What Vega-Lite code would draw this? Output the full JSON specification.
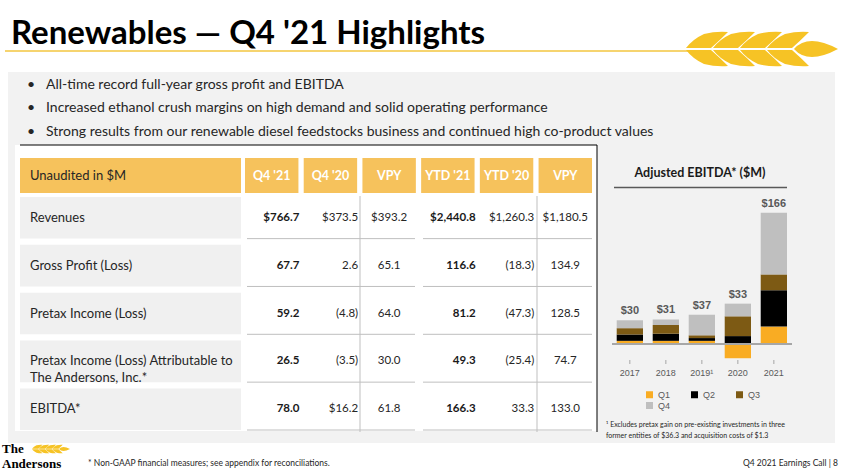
{
"$schema":"https://vega.github.io/schema/vega-lite/v6.json",
"width":844,"height":475,"autosize":{"type":"none"},"padding":0,"background":"#ffffff",
"config":{"view":{"stroke":null},"font":"Lato"},
"datasets":{
 "bullets":[
  {"i":"1","text":"All-time record full-year gross profit and EBITDA"},
  {"i":"2","text":"Increased ethanol crush margins on high demand and solid operating performance"},
  {"i":"3","text":"Strong results from our renewable diesel feedstocks business and continued high co-product values"}
 ],
 "rows":[
  {"row":"Revenues","label":["Revenues"]},
  {"row":"Gross Profit (Loss)","label":["Gross Profit (Loss)"]},
  {"row":"Pretax Income (Loss)","label":["Pretax Income (Loss)"]},
  {"row":"Pretax Income (Loss) Attributable to The Andersons, Inc.*","label":["Pretax Income (Loss) Attributable to","The Andersons, Inc.*"]},
  {"row":"EBITDA*","label":["EBITDA*"]}
 ],
 "cols":[
  {"col":"Q4 '21","label":"Q4 '21"},{"col":"Q4 '20","label":"Q4 '20"},{"col":"VPY (Q4)","label":"VPY"},
  {"col":"YTD '21","label":"YTD '21"},{"col":"YTD '20","label":"YTD '20"},{"col":"VPY (YTD)","label":"VPY"}
 ],
 "cells":[
  {"row":"Revenues","col":"Q4 '21","v":"$766.7"},{"row":"Revenues","col":"Q4 '20","v":"$373.5"},{"row":"Revenues","col":"VPY (Q4)","v":"$393.2"},
  {"row":"Revenues","col":"YTD '21","v":"$2,440.8"},{"row":"Revenues","col":"YTD '20","v":"$1,260.3"},{"row":"Revenues","col":"VPY (YTD)","v":"$1,180.5"},
  {"row":"Gross Profit (Loss)","col":"Q4 '21","v":"67.7"},{"row":"Gross Profit (Loss)","col":"Q4 '20","v":"2.6"},{"row":"Gross Profit (Loss)","col":"VPY (Q4)","v":"65.1"},
  {"row":"Gross Profit (Loss)","col":"YTD '21","v":"116.6"},{"row":"Gross Profit (Loss)","col":"YTD '20","v":"(18.3)"},{"row":"Gross Profit (Loss)","col":"VPY (YTD)","v":"134.9"},
  {"row":"Pretax Income (Loss)","col":"Q4 '21","v":"59.2"},{"row":"Pretax Income (Loss)","col":"Q4 '20","v":"(4.8)"},{"row":"Pretax Income (Loss)","col":"VPY (Q4)","v":"64.0"},
  {"row":"Pretax Income (Loss)","col":"YTD '21","v":"81.2"},{"row":"Pretax Income (Loss)","col":"YTD '20","v":"(47.3)"},{"row":"Pretax Income (Loss)","col":"VPY (YTD)","v":"128.5"},
  {"row":"Pretax Income (Loss) Attributable to The Andersons, Inc.*","col":"Q4 '21","v":"26.5"},{"row":"Pretax Income (Loss) Attributable to The Andersons, Inc.*","col":"Q4 '20","v":"(3.5)"},{"row":"Pretax Income (Loss) Attributable to The Andersons, Inc.*","col":"VPY (Q4)","v":"30.0"},
  {"row":"Pretax Income (Loss) Attributable to The Andersons, Inc.*","col":"YTD '21","v":"49.3"},{"row":"Pretax Income (Loss) Attributable to The Andersons, Inc.*","col":"YTD '20","v":"(25.4)"},{"row":"Pretax Income (Loss) Attributable to The Andersons, Inc.*","col":"VPY (YTD)","v":"74.7"},
  {"row":"EBITDA*","col":"Q4 '21","v":"78.0"},{"row":"EBITDA*","col":"Q4 '20","v":"$16.2"},{"row":"EBITDA*","col":"VPY (Q4)","v":"61.8"},
  {"row":"EBITDA*","col":"YTD '21","v":"166.3"},{"row":"EBITDA*","col":"YTD '20","v":"33.3"},{"row":"EBITDA*","col":"VPY (YTD)","v":"133.0"}
 ],
 "ebitda":[
  {"year":"2017","q":"Q1","v":4},{"year":"2017","q":"Q2","v":8},{"year":"2017","q":"Q3","v":8},{"year":"2017","q":"Q4","v":10},
  {"year":"2018","q":"Q1","v":4},{"year":"2018","q":"Q2","v":9},{"year":"2018","q":"Q3","v":11},{"year":"2018","q":"Q4","v":7},
  {"year":"2019","q":"Q1","v":4},{"year":"2019","q":"Q2","v":3.5},{"year":"2019","q":"Q3","v":3.5},{"year":"2019","q":"Q4","v":26},
  {"year":"2020","q":"Q1","v":-18},{"year":"2020","q":"Q2","v":10},{"year":"2020","q":"Q3","v":25},{"year":"2020","q":"Q4","v":16},
  {"year":"2021","q":"Q1","v":22},{"year":"2021","q":"Q2","v":46},{"year":"2021","q":"Q3","v":20},{"year":"2021","q":"Q4","v":78}
 ],
 "years":[
  {"year":"2017","label":"2017"},{"year":"2018","label":"2018"},{"year":"2019","label":"2019¹"},{"year":"2020","label":"2020"},{"year":"2021","label":"2021"}
 ]
},
"layer":[
 {"data":{"values":[{"part":"highlights box"}]},"mark":{"type":"rect","color":"#f2f2f2"},
  "encoding":{"x":{"value":8},"x2":{"value":835},"y":{"value":72},"y2":{"value":443}}},
 {"data":{"values":[{"t":"Renewables — Q4 '21 Highlights"}]},
  "mark":{"type":"text","align":"left","baseline":"alphabetic","font":"Lato","fontSize":33,"fontWeight":"bold","color":"#000000"},
  "encoding":{"text":{"field":"t"},"x":{"value":11},"y":{"value":44}}},
 {"data":{"values":[{"part":"title rule"}]},"mark":{"type":"rule","color":"#f3c63f","strokeWidth":1.5},
  "encoding":{"x":{"value":5},"x2":{"value":690},"y":{"value":51}}},
 {"data":{"values":[{"logo":"wheat"}]},
  "mark":{"type":"point","shape":"M-76,-1L-51,-1Q-43,-8,-34,-17Q-46,-18,-58,-15Q-69,-10,-76,-1ZM-76,1L-51,1Q-43,8,-34,17Q-46,18,-58,15Q-69,10,-76,1ZM-49,-1L-24,-1Q-16,-8,-7,-17Q-19,-18,-31,-15Q-42,-10,-49,-1ZM-49,1L-24,1Q-16,8,-7,17Q-19,18,-31,15Q-42,10,-49,1ZM-22,-1L3,-1Q11,-8,20,-17Q8,-18,-4,-15Q-15,-10,-22,-1ZM-22,1L3,1Q11,8,20,17Q8,18,-4,15Q-15,10,-22,1ZM5,-1L30,-1Q38,-8,47,-17Q35,-18,23,-15Q12,-10,5,-1ZM5,1L30,1Q38,8,47,17Q35,18,23,15Q12,10,5,1ZM32,0Q46,-16,76,0Q46,16,32,0Z","size":4,"filled":true,"color":"#f6c325","opacity":1,"strokeWidth":0},
  "encoding":{"x":{"value":762},"y":{"value":49}}},
 {"data":{"name":"bullets"},
  "layer":[
   {"mark":{"type":"text","text":"•","align":"center","baseline":"middle","fontSize":14,"color":"#262626"},
    "encoding":{"y":{"field":"i","type":"ordinal","axis":null,"scale":{"type":"point","range":[85,131.5],"padding":0}},"x":{"value":31}}},
   {"mark":{"type":"text","align":"left","baseline":"middle","fontSize":14,"color":"#262626"},
    "encoding":{"y":{"field":"i","type":"ordinal","axis":null,"scale":{"type":"point","range":[85,131.5],"padding":0}},"x":{"value":46},"text":{"field":"text"}}}
  ]},
 {"data":{"values":[{"part":"table background"}]},"mark":{"type":"rect","color":"#ffffff"},
  "encoding":{"x":{"value":15},"x2":{"value":597},"y":{"value":145},"y2":{"value":431}}},
 {"data":{"values":[{"part":"table top rule"}]},"mark":{"type":"rule","color":"#000000","strokeWidth":1},
  "encoding":{"x":{"value":20},"x2":{"value":597},"y":{"value":145}}},
 {"data":{"values":[{"part":"table right rule"}]},"mark":{"type":"rule","color":"#000000","strokeWidth":1},
  "encoding":{"x":{"value":597},"y":{"value":145},"y2":{"value":432}}},
 {"data":{"values":[{"part":"column rule Q"},{"part":"column rule YTD"}]},"mark":{"type":"rule","color":"#bfbfbf","strokeWidth":1},
  "encoding":{"x":{"field":"part","type":"nominal","axis":null,"scale":{"type":"point","domain":["column rule Q","column rule YTD"],"range":[360,537],"padding":0}},"y":{"value":196},"y2":{"value":432}}},
 {"layer":[
   {"data":{"values":[{"h":"Unaudited in $M"}]},"mark":{"type":"rect","color":"#f6c25c"},
    "encoding":{"x":{"value":20},"x2":{"value":241},"y":{"value":158},"y2":{"value":193}}},
   {"data":{"values":[{"h":"Unaudited in $M"}]},"mark":{"type":"text","align":"left","baseline":"middle","fontSize":13,"color":"#262626"},
    "encoding":{"x":{"value":30},"y":{"value":176},"text":{"field":"h"}}},
   {"data":{"name":"cols"},"mark":{"type":"rect","color":"#f6c25c"},
    "encoding":{"x":{"field":"col","type":"nominal","axis":null,"scale":{"type":"band","domain":["Q4 '21","Q4 '20","VPY (Q4)","YTD '21","YTD '20","VPY (YTD)"],"range":[245,592],"paddingInner":0.09,"paddingOuter":0}},
     "y":{"value":158},"y2":{"value":193}}},
   {"data":{"name":"cols"},"mark":{"type":"text","align":"center","baseline":"middle","fontSize":12.5,"fontWeight":"bold","color":"#ffffff"},
    "encoding":{"x":{"field":"col","type":"nominal","axis":null,"scale":{"type":"band","domain":["Q4 '21","Q4 '20","VPY (Q4)","YTD '21","YTD '20","VPY (YTD)"],"range":[245,592],"paddingInner":0.09,"paddingOuter":0},"bandPosition":0.5},
     "y":{"value":176},"text":{"field":"label"}}},
   {"data":{"name":"rows"},"mark":{"type":"rect","color":"#f0f0f0"},
    "encoding":{"y":{"field":"row","type":"nominal","axis":null,"scale":{"type":"band","domain":["Revenues","Gross Profit (Loss)","Pretax Income (Loss)","Pretax Income (Loss) Attributable to The Andersons, Inc.*","EBITDA*"],"range":[197,430],"paddingInner":0.13,"paddingOuter":0}},
     "x":{"value":20},"x2":{"value":241}}},
   {"data":{"name":"rows"},"mark":{"type":"text","align":"left","baseline":"middle","fontSize":13,"lineHeight":17,"color":"#262626"},
    "encoding":{"y":{"field":"row","type":"nominal","axis":null,"scale":{"type":"band","domain":["Revenues","Gross Profit (Loss)","Pretax Income (Loss)","Pretax Income (Loss) Attributable to The Andersons, Inc.*","EBITDA*"],"range":[197,430],"paddingInner":0.13,"paddingOuter":0},"bandPosition":0.5},
     "x":{"value":30},"text":{"field":"label"}}},
   {"data":{"name":"rows"},"mark":{"type":"rule","color":"#bfbfbf","strokeWidth":1},
    "encoding":{"y":{"field":"row","type":"nominal","axis":null,"scale":{"type":"band","domain":["Revenues","Gross Profit (Loss)","Pretax Income (Loss)","Pretax Income (Loss) Attributable to The Andersons, Inc.*","EBITDA*"],"range":[197,430],"paddingInner":0.13,"paddingOuter":0},"bandPosition":1},
     "x":{"value":247},"x2":{"value":415}}},
   {"data":{"name":"rows"},"mark":{"type":"rule","color":"#bfbfbf","strokeWidth":1},
    "encoding":{"y":{"field":"row","type":"nominal","axis":null,"scale":{"type":"band","domain":["Revenues","Gross Profit (Loss)","Pretax Income (Loss)","Pretax Income (Loss) Attributable to The Andersons, Inc.*","EBITDA*"],"range":[197,430],"paddingInner":0.13,"paddingOuter":0},"bandPosition":1},
     "x":{"value":423},"x2":{"value":592}}},
   {"data":{"name":"cells"},"transform":[{"filter":{"field":"col","oneOf":["Q4 '21","YTD '21"]}}],
    "mark":{"type":"text","align":"right","baseline":"middle","fontSize":11.5,"fontWeight":"bold","color":"#1a1a1a","dx":1},
    "encoding":{"x":{"field":"col","type":"nominal","axis":null,"scale":{"type":"band","domain":["Q4 '21","Q4 '20","VPY (Q4)","YTD '21","YTD '20","VPY (YTD)"],"range":[245,592],"paddingInner":0.09,"paddingOuter":0},"bandPosition":1},
     "y":{"field":"row","type":"nominal","axis":null,"scale":{"type":"band","domain":["Revenues","Gross Profit (Loss)","Pretax Income (Loss)","Pretax Income (Loss) Attributable to The Andersons, Inc.*","EBITDA*"],"range":[197,430],"paddingInner":0.13,"paddingOuter":0},"bandPosition":0.5},
     "text":{"field":"v"}}},
   {"data":{"name":"cells"},"transform":[{"filter":{"field":"col","oneOf":["Q4 '20","YTD '20"]}}],
    "mark":{"type":"text","align":"right","baseline":"middle","fontSize":11.5,"color":"#262626","dx":1},
    "encoding":{"x":{"field":"col","type":"nominal","axis":null,"scale":{"type":"band","domain":["Q4 '21","Q4 '20","VPY (Q4)","YTD '21","YTD '20","VPY (YTD)"],"range":[245,592],"paddingInner":0.09,"paddingOuter":0},"bandPosition":1},
     "y":{"field":"row","type":"nominal","axis":null,"scale":{"type":"band","domain":["Revenues","Gross Profit (Loss)","Pretax Income (Loss)","Pretax Income (Loss) Attributable to The Andersons, Inc.*","EBITDA*"],"range":[197,430],"paddingInner":0.13,"paddingOuter":0},"bandPosition":0.5},
     "text":{"field":"v"}}},
   {"data":{"name":"cells"},"transform":[{"filter":{"field":"col","oneOf":["VPY (Q4)","VPY (YTD)"]}}],
    "mark":{"type":"text","align":"center","baseline":"middle","fontSize":11.5,"color":"#262626"},
    "encoding":{"x":{"field":"col","type":"nominal","axis":null,"scale":{"type":"band","domain":["Q4 '21","Q4 '20","VPY (Q4)","YTD '21","YTD '20","VPY (YTD)"],"range":[245,592],"paddingInner":0.09,"paddingOuter":0},"bandPosition":0.5},
     "y":{"field":"row","type":"nominal","axis":null,"scale":{"type":"band","domain":["Revenues","Gross Profit (Loss)","Pretax Income (Loss)","Pretax Income (Loss) Attributable to The Andersons, Inc.*","EBITDA*"],"range":[197,430],"paddingInner":0.13,"paddingOuter":0},"bandPosition":0.5},
     "text":{"field":"v"}}}
 ]},
 {"data":{"values":[{"t":"Adjusted EBITDA* ($M)"}]},
  "mark":{"type":"text","align":"center","baseline":"middle","fontSize":12.5,"fontWeight":"bold","color":"#1a1a1a"},
  "encoding":{"text":{"field":"t"},"x":{"value":700},"y":{"value":173}}},
 {"data":{"values":[{"part":"chart title rule"}]},"mark":{"type":"rule","color":"#595959","strokeWidth":1.5},
  "encoding":{"x":{"value":614},"x2":{"value":787},"y":{"value":187.5}}},
 {"data":{"name":"ebitda"},
  "layer":[
   {"mark":{"type":"bar"},
    "encoding":{
     "x":{"field":"year","type":"nominal","axis":null,"scale":{"type":"band","domain":["2017","2018","2019","2020","2021"],"range":[616.7,787],"paddingInner":0.27,"paddingOuter":0}},
     "y":{"field":"v","type":"quantitative","stack":"zero","axis":null,"scale":{"domain":[0,166],"range":[344,212.7],"nice":false,"zero":false}},
     "color":{"field":"q","type":"nominal","scale":{"domain":["Q1","Q2","Q3","Q4"],"range":["#f9ac23","#000000","#7d5a14","#bfbfbf"]},
      "legend":{"title":null,"orient":"none","legendX":645,"legendY":390,"columns":3,"direction":"horizontal","symbolType":"square","symbolSize":49,"symbolStrokeWidth":0,"labelFont":"Liberation Sans","labelFontSize":9,"labelColor":"#595959","labelOffset":4,"columnPadding":19,"rowPadding":1}},
     "order":{"field":"q"}}},
   {"transform":[
     {"joinaggregate":[{"op":"sum","field":"v","as":"total"}],"groupby":["year"]},
     {"filter":"datum.v > 0"},
     {"aggregate":[{"op":"sum","field":"v","as":"top"}],"groupby":["year","total"]}],
    "mark":{"type":"text","align":"center","baseline":"middle","dy":-9,"font":"Liberation Sans","fontSize":11,"fontWeight":"bold","color":"#595959"},
    "encoding":{
     "x":{"field":"year","type":"nominal","axis":null,"scale":{"type":"band","domain":["2017","2018","2019","2020","2021"],"range":[616.7,787],"paddingInner":0.27,"paddingOuter":0}},
     "y":{"field":"top","type":"quantitative","axis":null,"scale":{"domain":[0,166],"range":[344,212.7],"nice":false,"zero":false}},
     "text":{"field":"total","type":"quantitative","format":"$.0f"}}},
   {"mark":{"type":"rule","color":"#a6a6a6","strokeWidth":1},
    "encoding":{"y":{"datum":0,"type":"quantitative"},"x":{"value":612},"x2":{"value":792}}},
   {"data":{"name":"years"},"mark":{"type":"rule","color":"#a6a6a6","strokeWidth":1},
    "encoding":{"x":{"field":"year","type":"nominal","axis":null,"scale":{"type":"band","domain":["2017","2018","2019","2020","2021"],"range":[616.7,787],"paddingInner":0.27,"paddingOuter":0},"bandPosition":0.5},
     "y":{"value":360},"y2":{"value":364}}},
   {"data":{"name":"years"},"mark":{"type":"text","align":"center","baseline":"middle","font":"Liberation Sans","fontSize":9,"color":"#595959"},
    "encoding":{"x":{"field":"year","type":"nominal","axis":null,"scale":{"type":"band","domain":["2017","2018","2019","2020","2021"],"range":[616.7,787],"paddingInner":0.27,"paddingOuter":0},"bandPosition":0.5},
     "y":{"value":373},"text":{"field":"label"}}}
  ]},
 {"data":{"values":[{"t":["¹ Excludes pretax gain on pre-existing investments in three","  former entities of $36.3 and acquisition costs of $1.3"]}]},
  "mark":{"type":"text","align":"left","baseline":"middle","fontSize":7,"lineHeight":11,"color":"#262626"},
  "encoding":{"text":{"field":"t"},"x":{"value":606},"y":{"value":424.5}}},
 {"data":{"values":[{"t":"* Non-GAAP financial measures; see appendix for reconciliations."}]},
  "mark":{"type":"text","align":"left","baseline":"middle","fontSize":8.5,"color":"#262626"},
  "encoding":{"text":{"field":"t"},"x":{"value":88},"y":{"value":463}}},
 {"data":{"values":[{"t":"Q4 2021 Earnings Call | 8"}]},
  "mark":{"type":"text","align":"right","baseline":"middle","fontSize":8.5,"color":"#262626"},
  "encoding":{"text":{"field":"t"},"x":{"value":838},"y":{"value":463}}},
 {"data":{"values":[{"t":["The","Andersons"]}]},
  "mark":{"type":"text","align":"left","baseline":"alphabetic","font":"Liberation Serif","fontSize":13,"fontWeight":"bold","lineHeight":14.5,"color":"#000000"},
  "encoding":{"text":{"field":"t"},"x":{"value":2},"y":{"value":453}}},
 {"data":{"values":[{"logo":"small wheat"}]},
  "mark":{"type":"point","shape":"M-76,-1L-51,-1Q-43,-8,-34,-17Q-46,-18,-58,-15Q-69,-10,-76,-1ZM-76,1L-51,1Q-43,8,-34,17Q-46,18,-58,15Q-69,10,-76,1ZM-49,-1L-24,-1Q-16,-8,-7,-17Q-19,-18,-31,-15Q-42,-10,-49,-1ZM-49,1L-24,1Q-16,8,-7,17Q-19,18,-31,15Q-42,10,-49,1ZM-22,-1L3,-1Q11,-8,20,-17Q8,-18,-4,-15Q-15,-10,-22,-1ZM-22,1L3,1Q11,8,20,17Q8,18,-4,15Q-15,10,-22,1ZM5,-1L30,-1Q38,-8,47,-17Q35,-18,23,-15Q12,-10,5,-1ZM5,1L30,1Q38,8,47,17Q35,18,23,15Q12,10,5,1ZM32,0Q46,-16,76,0Q46,16,32,0Z","size":0.25,"filled":true,"color":"#f6c325","opacity":1,"strokeWidth":0},
  "encoding":{"x":{"value":51},"y":{"value":449}}}
],
"resolve":{"scale":{"x":"independent","y":"independent","color":"independent"}}
}
